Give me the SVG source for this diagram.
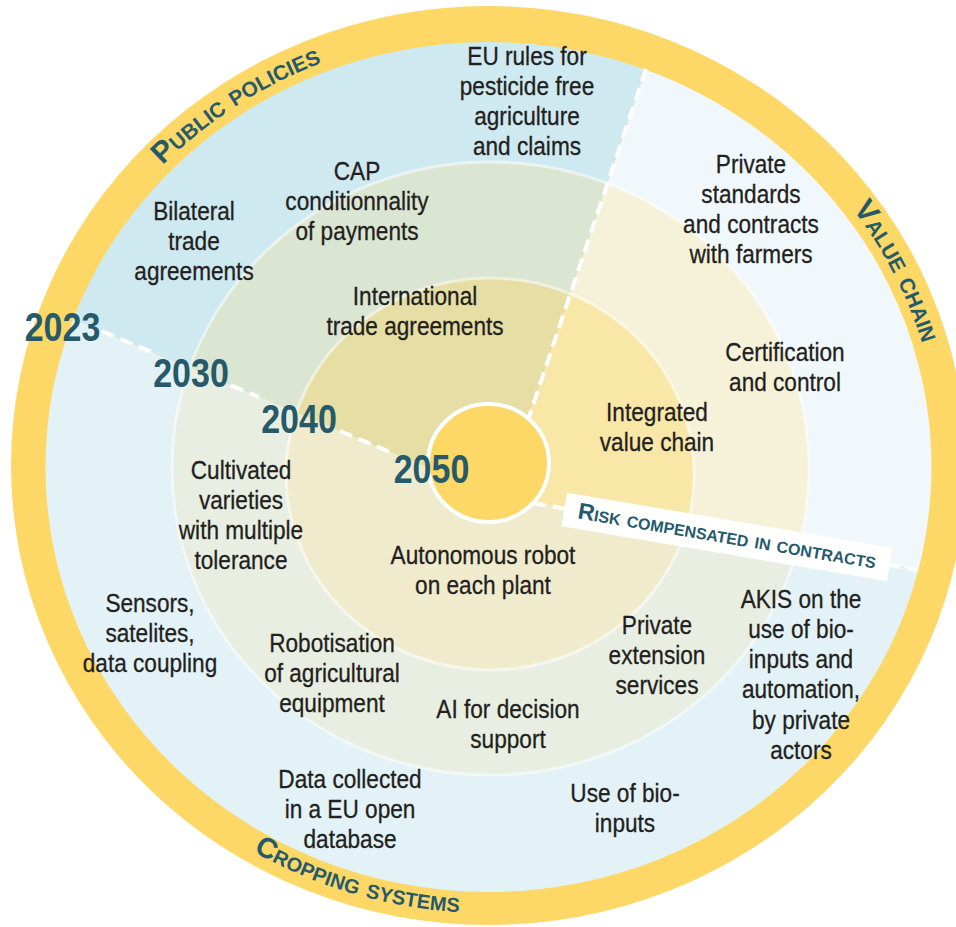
<svg xmlns="http://www.w3.org/2000/svg" xmlns:xlink="http://www.w3.org/1999/xlink" width="956" height="927" viewBox="0 0 956 927">
<style>
.t{font-family:"Liberation Sans",Arial,sans-serif;font-size:26px;fill:#231f20;stroke:#231f20;stroke-width:0.3;text-anchor:middle}
.yr{font-family:"Liberation Sans",Arial,sans-serif;font-weight:bold;font-size:40px;fill:#265a6b;text-anchor:middle}
.lbl{font-family:"Liberation Sans",Arial,sans-serif;font-weight:bold;font-variant:small-caps;fill:#265a6b;text-anchor:middle}
.dash{fill:none;stroke:#fff;stroke-width:4;stroke-dasharray:13 7}
.ringline{fill:none;stroke:#fff;stroke-opacity:0.5;stroke-width:3}
</style>
<defs>
<ellipse id="b1" cx="488.5" cy="467" rx="443" ry="425"/>
<ellipse id="b2" cx="490.5" cy="468.5" rx="318.5" ry="306.5"/>
<ellipse id="b3" cx="490" cy="474" rx="204" ry="196"/>
<clipPath id="cp-pub"><polygon points="497,498 440,472.9 -100,246.7 -100,-100 702.8,-100 528,420"/></clipPath>
<clipPath id="cp-val"><polygon points="497,498 528,420 702.8,-100 1100,-100 1100,601.9 525,501.6"/></clipPath>
<clipPath id="cp-crop"><polygon points="497,498 525,501.6 1100,601.9 1100,1100 -100,1100 -100,246.7 440,472.9"/></clipPath>
<path id="arcTop" d="M 36.5,466 A 452,434 0 0 1 940.5,466"/>
<path id="arcBot" d="M 23.5,466 A 465,447 0 0 0 953.5,466"/>
</defs>

<g id="background">
<ellipse cx="488.5" cy="465.5" rx="477.5" ry="459.5" fill="#fdd866"/>
<g id="sector-public" clip-path="url(#cp-pub)">
<use xlink:href="#b1" fill="#cfe9f0"/>
<use xlink:href="#b2" fill="#dae5d2"/>
<use xlink:href="#b3" fill="#e6dea5"/>
</g>
<g id="sector-value" clip-path="url(#cp-val)">
<use xlink:href="#b1" fill="#f1f8fb"/>
<use xlink:href="#b2" fill="#f6f1d9"/>
<use xlink:href="#b3" fill="#f8e7a7"/>
</g>
<g id="sector-cropping" clip-path="url(#cp-crop)">
<use xlink:href="#b1" fill="#e2f2f7"/>
<use xlink:href="#b2" fill="#e8efe2"/>
<use xlink:href="#b3" fill="#f0ebcd"/>
</g>
<use xlink:href="#b2" class="ringline"/>
<use xlink:href="#b3" class="ringline"/>
</g>

<g id="connectors">
<path class="dash" d="M 102,331.2 L 152,352.2"/>
<path class="dash" d="M 231,385.3 L 259,397"/>
<path class="dash" d="M 340,431 L 392,452.8"/>
<path class="dash" d="M 646,69 L 528,420"/>
<path class="dash" d="M 533,503 L 917,570"/>
</g>

<g id="center">
<ellipse cx="488.5" cy="463" rx="60.5" ry="59" fill="#fdd866" stroke="#fff" stroke-width="4"/>
</g>

<g id="risk-label" transform="translate(727 537) rotate(9.6)">
<rect x="-165" y="-17" width="330" height="34" fill="#fff"/>
<text class="lbl" x="0" y="6.5" style="font-size:23px">Risk compensated in contracts</text>
</g>

<g id="label-public">
<text class="lbl" style="font-size:30px"><textPath xlink:href="#arcTop" startOffset="30.9%">Public policies</textPath></text>
</g>
<g id="label-value">
<text class="lbl" style="font-size:30px"><textPath xlink:href="#arcTop" startOffset="85.6%">Value chain</textPath></text>
</g>
<g id="label-cropping">
<text class="lbl" style="font-size:28.5px"><textPath xlink:href="#arcBot" startOffset="40.4%">Cropping systems</textPath></text>
</g>

<g id="year-2023" transform="matrix(0.85 0 0 1 62.5 0)"><text class="yr" x="0" y="341">2023</text></g>
<g id="year-2030" transform="matrix(0.85 0 0 1 191 0)"><text class="yr" x="0" y="387">2030</text></g>
<g id="year-2040" transform="matrix(0.85 0 0 1 299 0)"><text class="yr" x="0" y="433">2040</text></g>
<g id="year-2050" transform="matrix(0.85 0 0 1 431.5 0)"><text class="yr" x="0" y="483">2050</text></g>

<g id="n-eu-rules" transform="matrix(0.87 0 0 1 527 0)"><text class="t"><tspan x="0" y="65">EU rules for</tspan><tspan x="0" y="95">pesticide free</tspan><tspan x="0" y="125">agriculture</tspan><tspan x="0" y="155">and claims</tspan></text></g>
<g id="n-cap" transform="matrix(0.87 0 0 1 357 0)"><text class="t"><tspan x="0" y="180">CAP</tspan><tspan x="0" y="210">conditionnality</tspan><tspan x="0" y="240">of payments</tspan></text></g>
<g id="n-bilateral" transform="matrix(0.87 0 0 1 194 0)"><text class="t"><tspan x="0" y="220">Bilateral</tspan><tspan x="0" y="250">trade</tspan><tspan x="0" y="280">agreements</tspan></text></g>
<g id="n-international" transform="matrix(0.87 0 0 1 415 0)"><text class="t"><tspan x="0" y="305">International</tspan><tspan x="0" y="335">trade agreements</tspan></text></g>

<g id="n-private-standards" transform="matrix(0.87 0 0 1 751 0)"><text class="t"><tspan x="0" y="173">Private</tspan><tspan x="0" y="203">standards</tspan><tspan x="0" y="233">and contracts</tspan><tspan x="0" y="263">with farmers</tspan></text></g>
<g id="n-certification" transform="matrix(0.87 0 0 1 785 0)"><text class="t"><tspan x="0" y="361">Certification</tspan><tspan x="0" y="391">and control</tspan></text></g>
<g id="n-integrated" transform="matrix(0.87 0 0 1 657 0)"><text class="t"><tspan x="0" y="421">Integrated</tspan><tspan x="0" y="451">value chain</tspan></text></g>

<g id="n-cultivated" transform="matrix(0.87 0 0 1 241 0)"><text class="t"><tspan x="0" y="479">Cultivated</tspan><tspan x="0" y="509">varieties</tspan><tspan x="0" y="539">with multiple</tspan><tspan x="0" y="569">tolerance</tspan></text></g>
<g id="n-autonomous" transform="matrix(0.87 0 0 1 483 0)"><text class="t"><tspan x="0" y="564">Autonomous robot</tspan><tspan x="0" y="594">on each plant</tspan></text></g>
<g id="n-sensors" transform="matrix(0.87 0 0 1 150 0)"><text class="t"><tspan x="0" y="612">Sensors,</tspan><tspan x="0" y="642">satelites,</tspan><tspan x="0" y="672">data coupling</tspan></text></g>
<g id="n-robotisation" transform="matrix(0.87 0 0 1 332 0)"><text class="t"><tspan x="0" y="652">Robotisation</tspan><tspan x="0" y="682">of agricultural</tspan><tspan x="0" y="712">equipment</tspan></text></g>
<g id="n-ai" transform="matrix(0.87 0 0 1 508 0)"><text class="t"><tspan x="0" y="718">AI for decision</tspan><tspan x="0" y="748">support</tspan></text></g>
<g id="n-private-extension" transform="matrix(0.87 0 0 1 657 0)"><text class="t"><tspan x="0" y="634">Private</tspan><tspan x="0" y="664">extension</tspan><tspan x="0" y="694">services</tspan></text></g>
<g id="n-akis" transform="matrix(0.87 0 0 1 801 0)"><text class="t"><tspan x="0" y="608">AKIS on the</tspan><tspan x="0" y="638">use of bio-</tspan><tspan x="0" y="668">inputs and</tspan><tspan x="0" y="698">automation,</tspan><tspan x="0" y="729">by private</tspan><tspan x="0" y="759">actors</tspan></text></g>
<g id="n-data" transform="matrix(0.87 0 0 1 350 0)"><text class="t"><tspan x="0" y="788">Data collected</tspan><tspan x="0" y="818">in a EU open</tspan><tspan x="0" y="848">database</tspan></text></g>
<g id="n-bio-inputs" transform="matrix(0.87 0 0 1 625 0)"><text class="t"><tspan x="0" y="802">Use of bio-</tspan><tspan x="0" y="832">inputs</tspan></text></g>
</svg>
